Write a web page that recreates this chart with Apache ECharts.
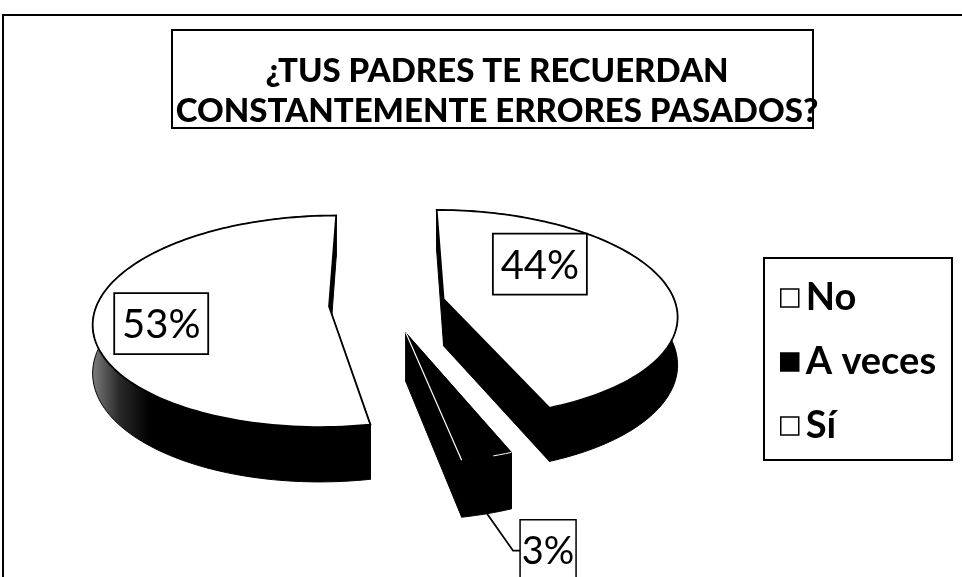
<!DOCTYPE html>
<html><head><meta charset="utf-8">
<script src="https://cdn.jsdelivr.net/npm/echarts@6/dist/echarts.min.js"></script>
<style>html,body{margin:0;padding:0;background:#fff}#c{width:962px;height:577px}</style>
</head><body><div id="c"></div>
<script>
// ---- data ----
const titleLines = ['¿TUS PADRES TE RECUERDAN', 'CONSTANTEMENTE ERRORES PASADOS?'];
const categories = ['No', 'A veces', 'Sí'];
const values = [44, 3, 53];

// ---- styles / layout ----
const sliceFill = ['#ffffff', '#000000', '#ffffff'];
const explode = [0.25, 0.28, 0.25];           // explosion, fraction of radius, along bisector
const labelSpot = [[51.6, 0.575], null, [256.6, 0.718]]; // [angle deg, fraction] from slice vertex
const P = {Xc: 387, Yc: 304, Sx: 232, Sy: 103, k: 0.14, D: 47};
const FONT = 'Lato, "Open Sans", sans-serif';

function proj(a, b, down) {
  const w = 1 + P.k * b;
  return [P.Xc + P.Sx * a / w, P.Yc - P.Sy * b / w + (down ? P.D / w : 0)];
}
const total = values.reduce((s, v) => s + v, 0);
const wallFill = new echarts.graphic.LinearGradient(88, 0, 150, 0, [
  {offset: 0, color: '#8a8a8a'}, {offset: 0.5, color: '#2a2a2a'}, {offset: 1, color: '#000'}], true);

function renderSlice(params, api) {
  const i = params.dataIndex;
  const v = api.value(0);
  let before = 0;
  for (let j = 0; j < i; j++) before += values[j];
  const s = before / total * 2 * Math.PI;
  const e = (before + v) / total * 2 * Math.PI;
  const mid = (s + e) / 2;
  const oa = explode[i] * Math.sin(mid), ob = explode[i] * Math.cos(mid);
  const n = Math.max(4, Math.ceil((e - s) / (Math.PI / 120)));
  const top = [], bot = [];
  for (let t = 0; t <= n; t++) {
    const th = s + (e - s) * t / n;
    top.push(proj(oa + Math.sin(th), ob + Math.cos(th), false));
    bot.push(proj(oa + Math.sin(th), ob + Math.cos(th), true));
  }
  const V = proj(oa, ob, false), Vb = proj(oa, ob, true);
  const children = [];
  children.push({type: 'polygon', shape: {points: top.concat(bot.slice().reverse())},
    style: {fill: wallFill, stroke: '#000', lineWidth: 1}});
  children.push({type: 'polygon', shape: {points: [V, top[0], bot[0], Vb]}, style: {fill: '#000', stroke: '#000', lineWidth: 1}});
  children.push({type: 'polygon', shape: {points: [V, top[n], bot[n], Vb]}, style: {fill: '#000', stroke: '#000', lineWidth: 1}});
  const isDark = sliceFill[i] === '#000000';
  children.push({type: 'polygon', shape: {points: [V].concat(top)},
    style: {fill: sliceFill[i], stroke: isDark ? null : '#000', lineWidth: 1.8}});
  const pct = Math.round(v / total * 100) + '%';
  if (isDark) {
    children.push({type: 'polyline', shape: {points: [V, top[n]]}, style: {stroke: '#fff', lineWidth: 1.2, fill: null}});
    children.push({type: 'polyline', shape: {points: top.slice(0, Math.ceil(n / 2))}, style: {stroke: '#fff', lineWidth: 1, fill: null}});
    // outside label with leader
    const A = proj(oa + Math.sin(mid), ob + Math.cos(mid), true);
    const E = [A[0] + 26, A[1] + 37];
    const B = [E[0] + 7, E[1]];
    children.push({type: 'polyline', shape: {points: [A, E, B]}, style: {stroke: '#000', lineWidth: 1.8, fill: null}});
    children.push({type: 'rect', shape: {x: B[0], y: B[1] - 31, width: 56, height: 64}, style: {fill: '#fff', stroke: '#000', lineWidth: 1.5}});
    children.push({type: 'text', style: {text: pct, x: B[0] + 28, y: B[1] + 1, align: 'center', verticalAlign: 'middle',
      font: '38px ' + FONT, fill: '#000'}});
  } else {
    const ls = labelSpot[i];
    const la = ls[0] * Math.PI / 180;
    const C = proj(oa + ls[1] * Math.sin(la), ob + ls[1] * Math.cos(la), false);
    children.push({type: 'rect', shape: {x: C[0] - 47, y: C[1] - 31, width: 94, height: 61}, style: {fill: '#fff', stroke: '#000', lineWidth: 1.8}});
    children.push({type: 'text', style: {text: pct, x: C[0], y: C[1] + 1, align: 'center', verticalAlign: 'middle',
      font: '40px ' + FONT, fill: '#000'}});
  }
  return {type: 'group', children: children};
}

const series = categories.map((c, i) => ({
  type: 'custom', name: c, coordinateSystem: 'none', data: [],
  renderItem: () => null,
  itemStyle: {color: sliceFill[i], borderColor: '#000', borderWidth: 1.5}
}));
series.push({
  type: 'custom', name: 'pie3d', coordinateSystem: 'none', silent: true,
  data: values.map((v, i) => ({name: categories[i], value: [v]})),
  renderItem: renderSlice
});

const chart = echarts.init(document.getElementById('c'), null, {renderer: 'canvas'});
chart.setOption({
  animation: false,
  backgroundColor: '#fff',
  title: {
    text: titleLines.join('\n'),
    left: 492, top: 46, textAlign: 'center',
    textStyle: {fontFamily: FONT, fontWeight: 900, fontSize: 33, lineHeight: 40, color: '#000'}
  },
  legend: {
    data: categories, orient: 'vertical', left: 775, top: 274,
    icon: 'rect', itemWidth: 18, itemHeight: 18, itemGap: 26,
    itemStyle: {borderColor: '#000', borderWidth: 1.5},
    textStyle: {fontFamily: FONT, fontWeight: 'bold', fontSize: 38, color: '#000', lineHeight: 38, padding: [0, 0, 0, 2]},
    selectedMode: false
  },
  graphic: [
    {type: 'polyline', shape: {points: [[3, 577], [3, 15], [962, 15]]}, style: {stroke: '#000', lineWidth: 2, fill: null}},
    {type: 'rect', shape: {x: 172, y: 30, width: 641, height: 98}, style: {fill: null, stroke: '#000', lineWidth: 2}, z: -1},
    {type: 'rect', shape: {x: 764, y: 258, width: 188, height: 202}, style: {fill: null, stroke: '#000', lineWidth: 2}, z: -1}
  ],
  series: series
});
</script></body></html>
